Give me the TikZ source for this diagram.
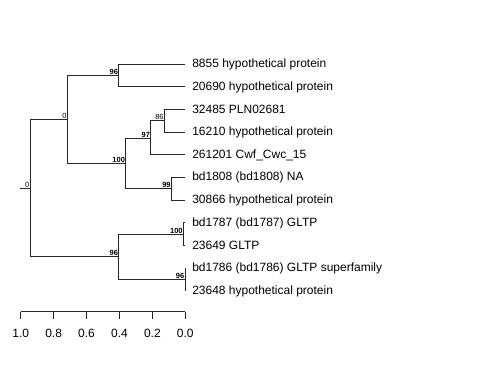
\documentclass[tikz,border=0pt]{standalone}
\usepackage{fontspec}
\setmainfont{Liberation Sans}
\begin{document}
\begin{tikzpicture}[x=0.75pt,y=-0.75pt,
  edge/.style={line width=0.75pt,black!85},
  tip/.style={anchor=west,inner sep=0pt,font=\fontsize{9}{10}\selectfont},
  bs/.style={anchor=south east,inner sep=0.6pt,font=\fontsize{5.6}{6}\selectfont\bfseries},
  bsl/.style={anchor=south east,inner sep=0.6pt,font=\fontsize{5.6}{6}\selectfont},
  axlab/.style={font=\fontsize{9}{10}\selectfont,inner sep=0pt}]
\useasboundingbox (0,0) rectangle (480,384);
% tips
\coordinate (t1) at (185.3,64.3);
\coordinate (t2) at (185.3,87);
\coordinate (t3) at (185.3,109.7);
\coordinate (t4) at (185.3,132.3);
\coordinate (t5) at (185.3,155);
\coordinate (t6) at (185.3,177.7);
\coordinate (t7) at (185.3,200.3);
\coordinate (t8) at (185.3,223);
\coordinate (t9) at (185.3,245.7);
\coordinate (t10) at (185.3,268.3);
\coordinate (t11) at (185.3,291);
% internal nodes
\coordinate (root) at (30.3,188.3);
\coordinate (rstub) at (20.5,188.3);
\coordinate (nA) at (67.7,119.3);
\coordinate (nB) at (119,75.7);
\coordinate (nC) at (126,163.3);
\coordinate (nD) at (151,138.3);
\coordinate (nE) at (164.7,121);
\coordinate (nF) at (171.7,189);
\coordinate (nG) at (119,257);
\coordinate (nH) at (183.7,234.4);
\coordinate (nI) at (185.3,279.7);
% edges
\draw[edge] (rstub) -- (root);
\draw[edge] (root) |- (nA);
\draw[edge] (root) |- (nG);
\draw[edge] (nA) |- (nB);
\draw[edge] (nA) |- (nC);
\draw[edge] (nB) |- (t1);
\draw[edge] (nB) |- (t2);
\draw[edge] (nC) |- (nD);
\draw[edge] (nC) |- (nF);
\draw[edge] (nD) |- (nE);
\draw[edge] (nD) |- (t5);
\draw[edge] (nE) |- (t3);
\draw[edge] (nE) |- (t4);
\draw[edge] (nF) |- (t6);
\draw[edge] (nF) |- (t7);
\draw[edge] (nG) |- (nH);
\draw[edge] (nG) |- (nI);
\draw[edge] (nH) |- (t8);
\draw[edge] (nH) |- (t9);
\draw[edge] (nI) |- (t10);
\draw[edge] (nI) |- (t11);
% bootstrap labels
\node[bsl] (lroot) at (root) {0};
\node[bsl] (lA) at (nA) {0};
\node[bs] (lB) at (nB) {96};
\node[bs] (lC) at (nC) {100};
\node[bs] (lD) at (nD) {97};
\node[bsl] (lE) at (nE) {86};
\node[bs] (lF) at (nF) {99};
\node[bs] (lG) at (nG) {96};
\node[bs] (lH) at (nH) {100};
\node[bs] (lI) at (nI) {96};
% tip labels
\node[tip] (n1) at (192,64.3) {8855 hypothetical protein};
\node[tip] (n2) at (192,87) {20690 hypothetical protein};
\node[tip] (n3) at (192,109.7) {32485 PLN02681};
\node[tip] (n4) at (192,132.3) {16210 hypothetical protein};
\node[tip] (n5) at (192,155) {261201 Cwf\_Cwc\_15};
\node[tip] (n6) at (192,177.7) {bd1808 (bd1808) NA};
\node[tip] (n7) at (192,200.3) {30866 hypothetical protein};
\node[tip] (n8) at (192,223) {bd1787 (bd1787) GLTP};
\node[tip] (n9) at (192,245.7) {23649 GLTP};
\node[tip] (n10) at (192,268.3) {bd1786 (bd1786) GLTP superfamily};
\node[tip] (n11) at (192,291) {23648 hypothetical protein};
% axis
\coordinate (a0) at (20.7,311.7);
\coordinate (a5) at (185.3,311.7);
\draw[edge] (a0) -- (a5);
\foreach \i/\v in {0/1.0,1/0.8,2/0.6,3/0.4,4/0.2,5/0.0}{
  \coordinate (tk\i) at ({20.7+\i*32.92},311.7);
  \draw[edge] (tk\i) -- ++(0,7.3);
  \node[axlab] (al\i) at ({20.7+\i*32.92},333.5) {\v};
}
\end{tikzpicture}
\end{document}
